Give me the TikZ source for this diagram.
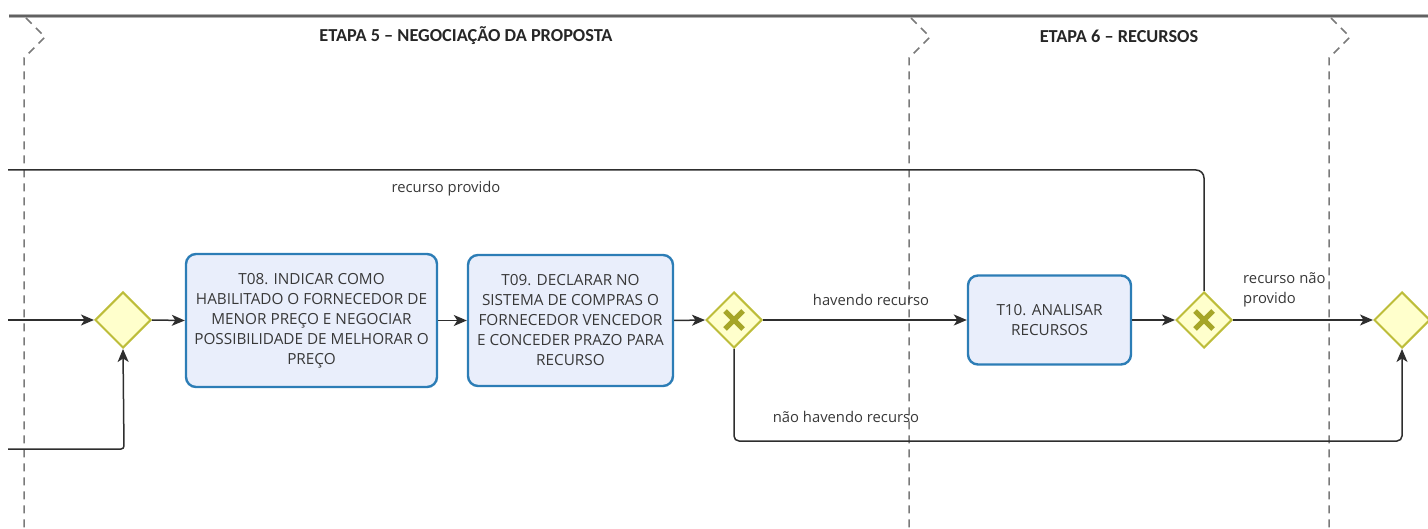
\documentclass[tikz,border=0pt]{standalone}
\usepackage{fontspec}
\setmainfont{Open Sans}
\newfontfamily\titlefont{Carlito}
\usetikzlibrary{shapes.geometric,arrows.meta,calc}
\definecolor{gwfill}{HTML}{FFFFCC}
\definecolor{gwdraw}{HTML}{BDBD3A}
\definecolor{gwx}{HTML}{A6A629}
\definecolor{taskdraw}{HTML}{2C7DB6}
\definecolor{taskfill}{HTML}{E9EEFB}
\definecolor{txt}{HTML}{383838}
\definecolor{lanegray}{HTML}{7A7A7A}
\definecolor{flow}{HTML}{2E2E2E}
\tikzset{
  gateway/.style={shape=diamond, draw=gwdraw, fill=gwfill, line width=2pt,
    minimum width=56pt, minimum height=56pt, inner sep=0pt, aspect=1},
  xmark/.style={draw=gwx, line width=5pt},
  task/.style={rectangle, rounded corners=10pt, draw=taskdraw, fill=taskfill,
    line width=2.4pt, align=center, text=txt,
    font=\fontsize{15.3}{20}\selectfont, inner sep=0pt},
  flowline/.style={draw=flow, line width=1.5pt},
  arrowflow/.style={flowline, -{Stealth[length=13pt,width=11pt,inset=3.5pt]}},
  lane/.style={draw=lanegray, line width=1.5pt, dash pattern=on 8pt off 6pt},
  lanetitle/.style={font=\titlefont\bfseries\fontsize{18.3}{20}\selectfont, text=black!85},
  flowlabel/.style={font=\fontsize{14.8}{20}\selectfont, text=txt, inner sep=0pt},
}
\begin{document}
\begin{tikzpicture}[x=1pt,y=-1pt]
\useasboundingbox (0,0) rectangle (1428,529);
% top pool border
\draw[line width=4pt, draw=black!30] (9,16) -- (1428,16);
\draw[line width=2pt, draw=black!62] (9,16) -- (1428,16);
% lane separators
\foreach \lx in {24,909,1329}{
  \draw[lane] (\lx+2,18) -- (\lx+21,37) -- (\lx,58) -- (\lx,529);
}
\node[lanetitle] (title5) at (466,36) {ETAPA 5 – NEGOCIAÇÃO DA PROPOSTA};
\node[lanetitle] (title6) at (1119,36) {ETAPA 6 – RECURSOS};

% gateways
\node[gateway] (g1) at (123,320) {};
\node[gateway] (g2) at (734,320) {};
\node[gateway] (g3) at (1204,320) {};
\node[gateway] (g4) at (1402,320) {};
\foreach \g in {g2,g3}{
  \draw[xmark] ($(\g)+(-9,-9)$) -- ($(\g)+(9,9)$);
  \draw[xmark] ($(\g)+(-9,9)$) -- ($(\g)+(9,-9)$);
}

% tasks
\node[task, minimum width=251pt, minimum height=133pt] (t08) at (311.5,320.5)
  {T08. INDICAR COMO\\HABILITADO O FORNECEDOR DE\\MENOR PREÇO E NEGOCIAR\\POSSIBILIDADE DE MELHORAR O\\PREÇO};
\node[task, minimum width=205pt, minimum height=131pt] (t09) at (570.5,320.5)
  {T09. DECLARAR NO\\SISTEMA DE COMPRAS O\\FORNECEDOR VENCEDOR\\E CONCEDER PRAZO PARA\\RECURSO};
\node[task, minimum width=163pt, minimum height=89pt] (t10) at (1049.5,320)
  {T10. ANALISAR\\RECURSOS};

% free ends
\coordinate (inA) at (8,320);
\coordinate (inB) at (8,449);
\coordinate (inBc) at (124,449);
\coordinate (backL) at (8,170);
\coordinate (backR) at (1204,170);
\coordinate (botL) at (734,441);
\coordinate (botR) at (1402,441);

% flows
\draw[arrowflow] (inA) -- (g1.west);
\draw[arrowflow, rounded corners=3pt] (inB) -- (inBc) -- (g1.south);
\draw[arrowflow] (g1.east) -- (t08.west);
\draw[arrowflow] (t08.east) -- (t09.west);
\draw[arrowflow] (t09.east) -- (g2.west);
\draw[arrowflow] (g2.east) -- (t10.west);
\draw[arrowflow] (t10.east) -- (g3.west);
\draw[arrowflow] (g3.east) -- (g4.west);
\draw[flowline, rounded corners=8pt] (g3.north) -- (backR) -- (backL);
\draw[arrowflow, rounded corners=5pt] (g2.south) -- (botL) -- (botR) -- (g4.south);

% labels
\node[flowlabel] (lprov) at (446,189) {recurso provido};
\node[flowlabel] (lhav) at (871,300) {havendo recurso};
\node[flowlabel] (lnhav) at (846,417) {não havendo recurso};
\node[flowlabel, anchor=west, align=left] (lnprov) at (1243,290) {recurso não\\provido};
\end{tikzpicture}
\end{document}
